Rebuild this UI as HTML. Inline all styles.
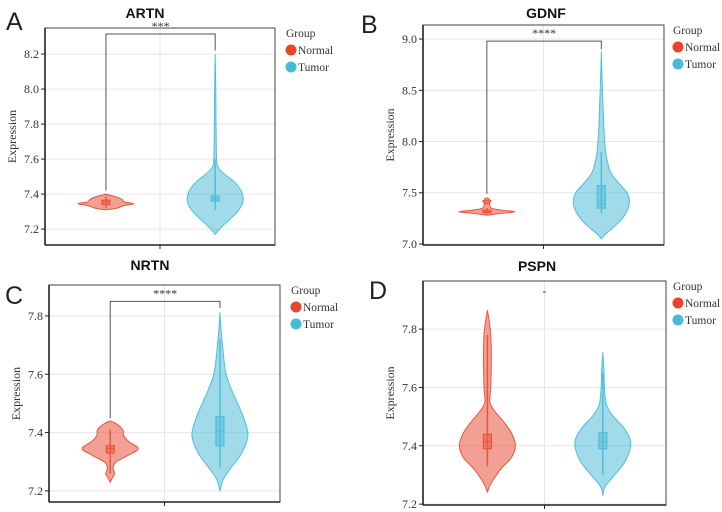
<!DOCTYPE html>
<html><head><meta charset="utf-8">
<style>
html,body{margin:0;padding:0;background:#fff;}
svg{display:block;}
.tick{font-family:"Liberation Serif",serif;font-size:12px;fill:#333;}
.ttl{font-family:"Liberation Sans",sans-serif;font-size:14px;font-weight:bold;fill:#111;}
.lbl{font-family:"Liberation Sans",sans-serif;font-size:25px;fill:#222;}
.leg{font-family:"Liberation Serif",serif;font-size:11.5px;fill:#333;}
.yt{font-family:"Liberation Serif",serif;font-size:12px;fill:#333;}
</style></head>
<body>
<svg id="fig" width="722" height="512" viewBox="0 0 722 512"></svg>
<script>
// ---- data ----
const genes = ["ARTN","GDNF","NRTN","PSPN"];
const panelLetters = ["A","B","C","D"];
const groups = ["Normal","Tumor"];
const tickValuesA = [7.2,7.4,7.6,7.8,8.0,8.2];
const tickValuesB = [7.0,7.5,8.0,8.5,9.0];
const tickValuesC = [7.2,7.4,7.6,7.8];
const tickValuesD = [7.2,7.4,7.6,7.8];
const tickLabelsA = ["7.2","7.4","7.6","7.8","8.0","8.2"];
const tickLabelsB = ["7.0","7.5","8.0","8.5","9.0"];
const tickLabelsC = ["7.2","7.4","7.6","7.8"];
const tickLabelsD = ["7.2","7.4","7.6","7.8"];
const significance = ["***","****","****","-"];
// violin densities: [expression, relative density]
const densA_N = [[7.31,0],[7.32,0.4],[7.335,0.65],[7.345,1.0],[7.355,0.65],[7.365,0.6],[7.38,0.45],[7.395,0.12],[7.40,0]];
const densA_T = [[7.17,0],[7.19,0.1],[7.22,0.28],[7.26,0.55],[7.30,0.8],[7.34,0.96],[7.375,1.0],[7.42,0.92],[7.47,0.68],[7.51,0.36],[7.55,0.12],[7.6,0.05],[7.8,0.03],[8.0,0.02],[8.2,0]];
const densB_N = [[7.28,0],[7.30,0.55],[7.315,1.0],[7.33,0.55],[7.35,0.15],[7.40,0.1],[7.42,0.15],[7.43,0]];
const densB_T = [[7.05,0],[7.09,0.12],[7.15,0.38],[7.25,0.75],[7.35,0.96],[7.42,1.0],[7.5,0.92],[7.6,0.6],[7.7,0.33],[7.85,0.18],[8.0,0.12],[8.2,0.08],[8.5,0.04],[8.87,0]];
const densC_N = [[7.23,0],[7.245,0.08],[7.26,0.16],[7.28,0.1],[7.30,0.22],[7.32,0.6],[7.345,1.0],[7.37,0.65],[7.39,0.48],[7.41,0.45],[7.43,0.22],[7.44,0]];
const densC_T = [[7.20,0],[7.24,0.12],[7.28,0.4],[7.33,0.78],[7.39,1.0],[7.45,0.85],[7.5,0.63],[7.55,0.4],[7.6,0.22],[7.65,0.14],[7.7,0.09],[7.75,0.04],[7.81,0]];
const densD_N = [[7.24,0],[7.27,0.12],[7.32,0.48],[7.36,0.86],[7.40,1.0],[7.44,0.88],[7.48,0.6],[7.52,0.25],[7.55,0.09],[7.6,0.12],[7.7,0.14],[7.78,0.12],[7.83,0.06],[7.865,0]];
const densD_T = [[7.23,0],[7.26,0.08],[7.30,0.42],[7.35,0.82],[7.41,1.0],[7.46,0.76],[7.5,0.38],[7.54,0.13],[7.6,0.06],[7.66,0.04],[7.72,0]];
// box stats: [whiskerLow, q1, median, q3, whiskerHigh]
const boxA_N = [7.32,7.34,7.355,7.365,7.385];
const boxA_T = [7.31,7.36,7.375,7.39,7.6];
const boxB_N = [7.29,7.305,7.315,7.33,7.35];
const boxB_T = [7.3,7.35,7.39,7.57,7.9];
const boxC_N = [7.26,7.33,7.345,7.355,7.41];
const boxC_T = [7.28,7.355,7.405,7.455,7.72];
const boxD_N = [7.33,7.39,7.415,7.44,7.78];
const boxD_T = [7.3,7.39,7.415,7.445,7.65];

const panels = [
 {gene:0,box:[45,28,275,245],dom:[7.109,8.349],ticks:tickValuesA,labels:tickLabelsA,dens:[densA_N,densA_T],bx:[boxA_N,boxA_T],br:[8.315,7.42,8.22],title:[145,18],letter:[6,30],yt:16,leg:286,outlier:null},
 {gene:1,box:[423,25,664,245],dom:[6.99,9.137],ticks:tickValuesB,labels:tickLabelsB,dens:[densB_N,densB_T],bx:[boxB_N,boxB_T],br:[8.98,7.49,8.9],title:[546,18],letter:[361,33],yt:394,leg:673,outlier:7.42},
 {gene:2,box:[49,285,280,502],dom:[7.162,7.906],ticks:tickValuesC,labels:tickLabelsC,dens:[densC_N,densC_T],bx:[boxC_N,boxC_T],br:[7.85,7.45,7.827],title:[150,270],letter:[5,304],yt:20,leg:291,outlier:null},
 {gene:3,box:[423,281,666,505],dom:[7.197,7.965],ticks:tickValuesD,labels:tickLabelsD,dens:[densD_N,densD_T],bx:[boxD_N,boxD_T],br:null,title:[537,271],letter:[369,299],yt:394,leg:673,outlier:null}
];
const colFill=["rgba(234,96,76,0.6)","rgba(84,190,216,0.55)"];
const colLine=["#e8553e","#4dbfd9"];
const NS="http://www.w3.org/2000/svg";
const svg=document.getElementById('fig');
function mk(tag,attrs,parent){const e=document.createElementNS(NS,tag);for(const k in attrs)e.setAttribute(k,attrs[k]);(parent||svg).appendChild(e);return e;}

function smoothSide(pts){
  let d="";
  for(let i=0;i<pts.length-1;i++){
    const p0=pts[Math.max(0,i-1)],p1=pts[i],p2=pts[i+1],p3=pts[Math.min(pts.length-1,i+2)];
    const c1=[p1[0]+(p2[0]-p0[0])/6,p1[1]+(p2[1]-p0[1])/6];
    const c2=[p2[0]-(p3[0]-p1[0])/6,p2[1]-(p3[1]-p1[1])/6];
    d+=` C${c1[0].toFixed(1)},${c1[1].toFixed(1)} ${c2[0].toFixed(1)},${c2[1].toFixed(1)} ${p2[0].toFixed(1)},${p2[1].toFixed(1)}`;
  }
  return d;
}

panels.forEach((p,pi)=>{
  const [x0,y0,x1,y1]=p.box;
  const g=mk('g',{});
  
  
  const y=v=>y1-(v-p.dom[0])/(p.dom[1]-p.dom[0])*(y1-y0);
  const w=x1-x0;
  const cx=[x0+w*0.265,x0+w*0.74];
  const mid=(x0+x1)/2;
  const halfMax=28;
  p.ticks.forEach(t=>{
    const l=mk('line',{x1:x0,x2:x1,y1:y(t),y2:y(t),stroke:'#e6e6e6','stroke-width':1},g);
    
    
  });
  const vg=mk('line',{x1:mid,x2:mid,y1:y0,y2:y1,stroke:'#e6e6e6','stroke-width':1},g);
  
  
  const fr=mk('rect',{x:x0,y:y0,width:w,height:y1-y0,fill:'none',stroke:'#444','stroke-width':1},g);
  
  
  mk('line',{x1:x0,x2:x0,y1:y0,y2:y1,stroke:'#222','stroke-width':1.6},g);
  mk('line',{x1:x0,x2:x1,y1:y1,y2:y1,stroke:'#222','stroke-width':1.6},g);
  mk('line',{x1:mid,x2:mid,y1:y1,y2:y1+4,stroke:'#222','stroke-width':1},g);
  p.ticks.forEach((t,i)=>{
    mk('line',{x1:x0-4,x2:x0,y1:y(t),y2:y(t),stroke:'#222','stroke-width':1},g);
    const tx=mk('text',{x:x0-6,y:y(t)+4,'text-anchor':'end',class:'tick'},g);
    tx.textContent=p.labels[i];
    
    
  });
  [0,1].forEach(k=>{
    const dens=p.dens[k];
    const right=dens.map(d=>[cx[k]+d[1]*halfMax,y(d[0])]);
    const left=dens.slice().reverse().map(d=>[cx[k]-d[1]*halfMax,y(d[0])]);
    let d=`M${right[0][0]},${right[0][1]}`+smoothSide(right)+` L${left[0][0]},${left[0][1]}`+smoothSide(left)+"Z";
    const vp=mk('path',{d:d,fill:colFill[k],stroke:colLine[k],'stroke-width':1},g);
    
    
    const b=p.bx[k];
    mk('line',{x1:cx[k],x2:cx[k],y1:y(b[0]),y2:y(b[4]),stroke:colLine[k],'stroke-width':1.5},g);
    const br=mk('rect',{x:cx[k]-4,y:y(b[3]),width:8,height:Math.max(2,y(b[1])-y(b[3])),fill:colFill[k],stroke:colLine[k],'stroke-width':1.2},g);
    
    
    mk('line',{x1:cx[k]-4,x2:cx[k]+4,y1:y(b[2]),y2:y(b[2]),stroke:colLine[k],'stroke-width':1},g);
  });
  if(p.outlier!==null){
    const o=mk('circle',{cx:cx[0],cy:y(p.outlier),r:3,fill:colFill[0],stroke:colLine[0]},g);
    
    
  }
  if(p.br){
    const yb=y(p.br[0]);
    const bk=mk('path',{d:`M${cx[0]},${y(p.br[1])} L${cx[0]},${yb} L${cx[1]},${yb} L${cx[1]},${y(p.br[2])}`,fill:'none',stroke:'#555','stroke-width':1},g);
    
    
    const st=mk('text',{x:(cx[0]+cx[1])/2,y:yb-4,'text-anchor':'middle',class:'tick','font-size':'11'},g);
    st.textContent=significance[pi];
    
    
  } else {
    const st=mk('text',{x:mid,y:y0+14,'text-anchor':'middle',class:'tick'},g);
    st.textContent=significance[pi];
    
    
  }
  const tt=mk('text',{x:p.title[0],y:p.title[1],'text-anchor':'middle',class:'ttl'},g);
  tt.textContent=genes[p.gene];
  
  
  const lt=mk('text',{x:p.letter[0],y:p.letter[1],class:'lbl'},g);
  lt.textContent=panelLetters[pi];
  
  
  const ymid=(y0+y1)/2;
  const ya=mk('text',{x:p.yt,y:ymid,'text-anchor':'middle',class:'yt',transform:`rotate(-90 ${p.yt} ${ymid})`},g);
  ya.textContent="Expression";
  
  
  const lg=mk('g',{},g);
  
  
  const lx=p.leg, ly=y0+9;
  const gt=mk('text',{x:lx,y:ly,class:'leg'},lg);
  gt.textContent="Group";
  
  
  groups.forEach((gr,k)=>{
    const cy=ly+13+k*17;
    const e=mk('g',{},lg);
    
    
    mk('circle',{cx:lx+5,cy:cy,r:5.5,fill:k?'#45bcd8':'#e8442e'},e);
    const t=mk('text',{x:lx+12,y:cy+4,class:'leg'},e);
    t.textContent=gr;
  });
});
</script>
</body></html>
